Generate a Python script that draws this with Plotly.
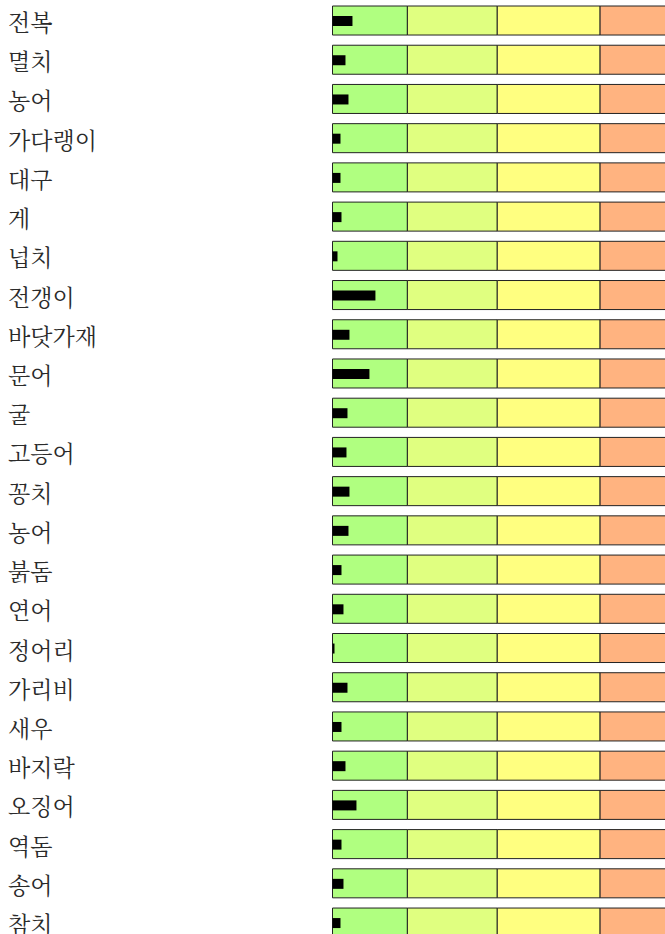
import plotly.graph_objects as go

categories = ["전복", "멸치", "농어", "가다랭이", "대구", "게", "넙치", "전갱이", "바닷가재", "문어",
              "굴", "고등어", "꽁치", "농어", "붉돔", "연어", "정어리", "가리비", "새우", "바지락",
              "오징어", "역돔", "송어", "참치"]
values = [20, 13, 16, 8, 8, 9, 5, 43, 17, 37,
          15, 14, 17, 16, 9, 11, 2, 15, 9, 13,
          24, 9, 11, 8]
band_edges = [0, 75, 165, 268, 400]
band_colors = ["#B0FF80", "#E0FF80", "#FFFF80", "#FFB380"]

idx = list(range(len(categories)))
fig = go.Figure()
for k in range(len(band_colors)):
    fig.add_trace(go.Bar(
        orientation="h", y=idx, x=[band_edges[k + 1] - band_edges[k]] * len(idx),
        base=[band_edges[k]] * len(idx), width=0.74,
        marker=dict(color=band_colors[k], line=dict(color="#222222", width=1)),
        hoverinfo="skip", showlegend=False))
fig.add_trace(go.Bar(
    orientation="h", y=[i + 0.013 for i in idx], x=values, base=[0] * len(idx), width=0.255,
    marker=dict(color="#000000", line=dict(width=0)),
    hoverinfo="skip", showlegend=False))

annotations = []
for i, c in enumerate(categories):
    annotations.append(dict(
        x=-326 / 333, xref="paper", xanchor="left", y=i, yref="y", yanchor="middle",
        text=c, showarrow=False, yshift=-1,
        font=dict(family="Noto Serif CJK KR, Noto Sans CJK KR, serif", size=23, color="#2a2a2a")))

fig.update_layout(
    width=665, height=934, margin=dict(l=332, r=0, t=0, b=0),
    paper_bgcolor="white", plot_bgcolor="white", barmode="overlay",
    xaxis=dict(range=[-0.5, 333], showgrid=False, zeroline=False, showticklabels=False, fixedrange=True),
    yaxis=dict(range=[23.292, -0.523], showgrid=False, zeroline=False, showticklabels=False, fixedrange=True),
    annotations=annotations,
)
fig.write_html("out.html", config={"displayModeBar": False},
               post_script="document.body.style.margin='0';document.body.style.overflow='hidden';")
